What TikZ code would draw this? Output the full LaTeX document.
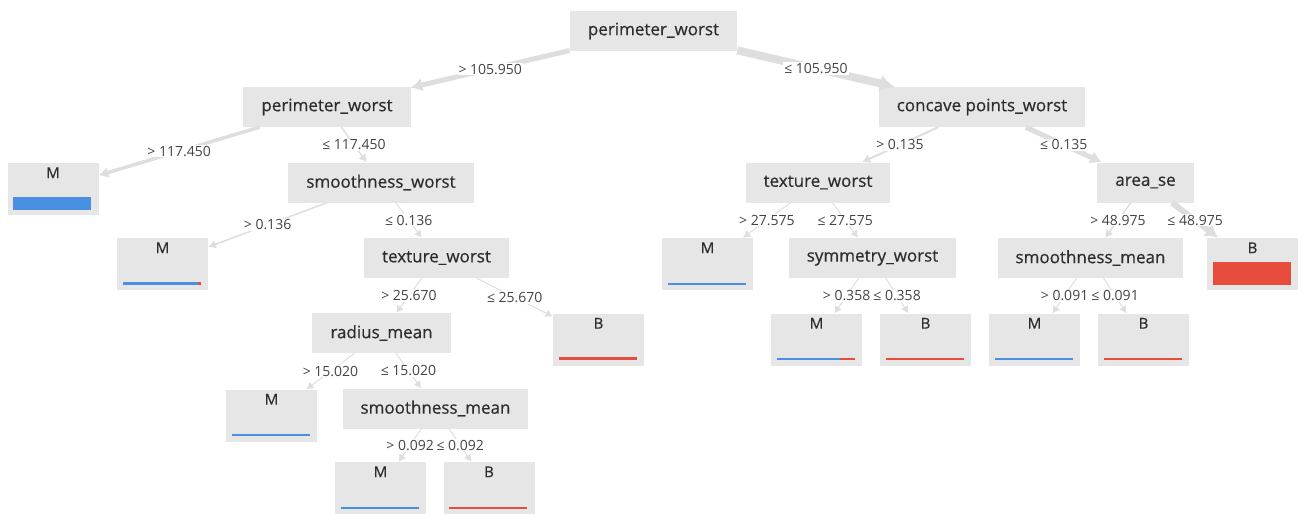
\documentclass[tikz,border=0pt]{standalone}
\usepackage{fontspec}
\setmainfont{Open Sans}
\newfontfamily\nodefont[FakeBold=0.5]{Open Sans}
\usetikzlibrary{arrows.meta}

\definecolor{boxgray}{RGB}{230,230,230}
\definecolor{edgegray}{RGB}{222,222,222}
\definecolor{textdark}{RGB}{45,45,45}
\definecolor{labeltext}{RGB}{68,68,68}
\definecolor{mblue}{RGB}{74,144,226}
\definecolor{bred}{RGB}{231,76,60}

% leaf: name, position, class, blue part of bar, bar height
\newcommand{\leafnode}[5]{%
  \node[leaf] (#1) at #2 {};
  \node[leaftitle] (#1t) at ([yshift=-10pt]#1.north) {#3};
  \fill[bred] ([xshift=6pt,yshift=5.5pt]#1.south west) rectangle ++(78pt,#5pt);
  \ifdim#4pt>0pt
    \fill[mblue] ([xshift=6pt,yshift=5.5pt]#1.south west) rectangle ++(#4pt,#5pt);
  \fi
}

\begin{document}
\begin{tikzpicture}[x=1pt,y=-1pt,
  split/.style={fill=boxgray,text=textdark,font=\nodefont\fontsize{17}{20}\selectfont,minimum height=40pt,inner xsep=18pt,inner ysep=0pt},
  leaf/.style={fill=boxgray,minimum width=91pt,minimum height=52pt,inner sep=0pt},
  leaftitle/.style={text=textdark,font=\nodefont\fontsize{15}{18}\selectfont,inner sep=0pt},
  cond/.style={fill=white,text=labeltext,font=\fontsize{14}{16}\selectfont,inner sep=1pt},
  flow/.style={draw=edgegray,line width=#1,-{Latex[length=6pt 1.1,width=7pt 1.3]}}]

\useasboundingbox (0,0) rectangle (1305,514);

% Split nodes
\node[split] (root) at (653.5,31) {perimeter\_worst};
\node[split] (lp) at (327,107) {perimeter\_worst};
\node[split] (cp) at (982,107) {concave points\_worst};
\node[split] (sw) at (381,182.5) {smoothness\_worst};
\node[split] (tw2) at (818,182.5) {texture\_worst};
\node[split] (area) at (1145.5,182.5) {area\_se};
\node[split] (tw) at (436.5,258) {texture\_worst};
\node[split] (sym) at (872.5,258) {symmetry\_worst};
\node[split] (sm2) at (1090.5,258) {smoothness\_mean};
\node[split] (rm) at (381.5,333) {radius\_mean};
\node[split] (sm) at (435.5,408.5) {smoothness\_mean};

% Leaves
\leafnode{m1}{(53,189)}{M}{78}{13}
\leafnode{m2}{(162.5,264)}{M}{75}{3}
\leafnode{m3}{(707.5,264)}{M}{78}{2}
\leafnode{b1}{(1252.5,264)}{B}{0}{23}
\leafnode{b2}{(598.5,339.5)}{B}{0}{3}
\leafnode{m4}{(816.5,339.5)}{M}{63}{2}
\leafnode{b3}{(925.5,339.5)}{B}{0}{2.5}
\leafnode{m5}{(1034.5,339.5)}{M}{78}{2}
\leafnode{b4}{(1143.5,339.5)}{B}{0}{2}
\leafnode{m6}{(271.5,415.5)}{M}{78}{2}
\leafnode{m7}{(380.5,488)}{M}{78}{2}
\leafnode{b5}{(489,488)}{B}{0}{2}

% Left half
\path (root) edge[flow=5pt] node[cond] (c1) {> 105.950} (lp)
(lp) edge[flow=3.5pt] node[cond] (c3) {> 117.450} (m1)
     edge[flow=1.5pt] node[cond] (c4) {≤ 117.450} (sw)
(sw) edge[flow=1.5pt] node[cond] (c5) {> 0.136} (m2)
     edge[flow=1pt] node[cond] (c6) {≤ 0.136} (tw)
(tw) edge[flow=1pt] node[cond] (c7) {> 25.670} (rm)
     edge[flow=1pt] node[cond] (c8) {≤ 25.670} (b2)
(rm) edge[flow=1pt] node[cond] (c9) {> 15.020} (m6)
     edge[flow=1pt] node[cond] (c10) {≤ 15.020} (sm)
(sm) edge[flow=1pt] node[cond] (c11) {> 0.092} (m7)
     edge[flow=1pt] node[cond] (c12) {≤ 0.092} (b5);

% Right half
\path (root) edge[flow=8pt] node[cond] (c2) {≤ 105.950} (cp)
(cp) edge[flow=2pt] node[cond] (c13) {> 0.135} (tw2)
     edge[flow=5pt] node[cond] (c14) {≤ 0.135} (area)
(tw2) edge[flow=1pt] node[cond] (c15) {> 27.575} (m3)
      edge[flow=1pt] node[cond] (c16) {≤ 27.575} (sym)
(sym) edge[flow=1pt] node[cond] (c17) {> 0.358} (m4)
      edge[flow=1pt] node[cond] (c18) {≤ 0.358} (b3)
(area) edge[flow=1.5pt] node[cond] (c19) {> 48.975} (sm2)
       edge[flow=6pt] node[cond] (c20) {≤ 48.975} (b1)
(sm2) edge[flow=1pt] node[cond] (c21) {> 0.091} (m5)
      edge[flow=1pt] node[cond] (c22) {≤ 0.091} (b4);
\end{tikzpicture}
\end{document}
